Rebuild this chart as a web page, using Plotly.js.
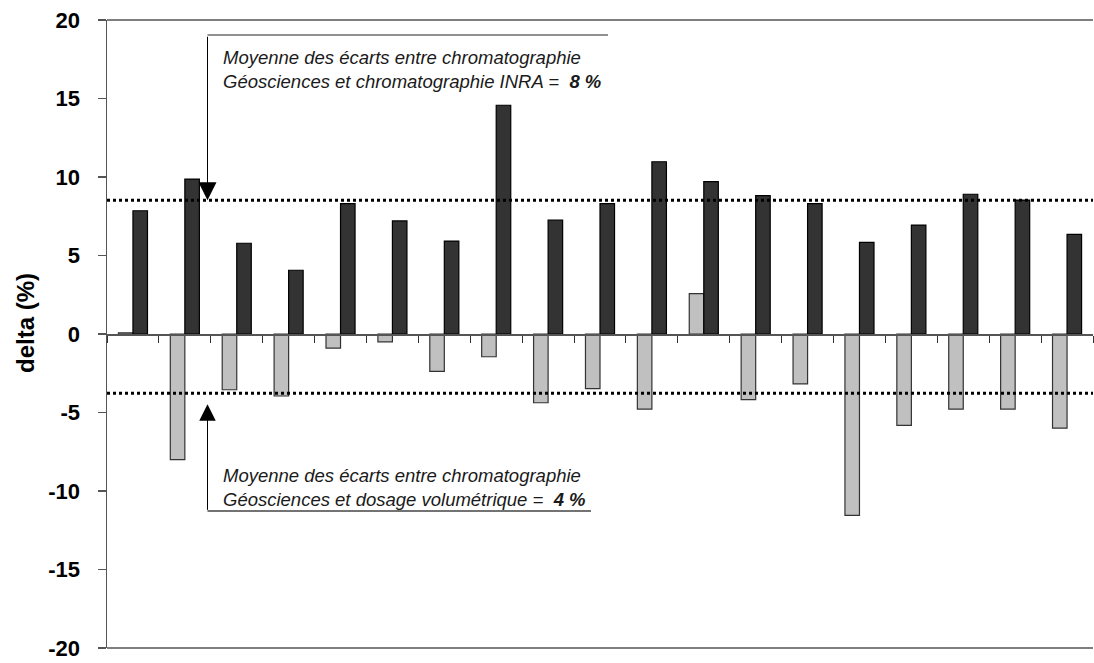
<!DOCTYPE html>
<html><head><meta charset="utf-8">
<script src="https://cdn.plot.ly/plotly-3.0.1.min.js"></script>
<style>html,body{margin:0;padding:0;background:#fff}#chart{width:1094px;height:663px}</style>
</head><body><div id="chart"></div>
<script>
// ---- data ----
const categories = ['1','2','3','4','5','6','7','8','9','10','11','12','13','14','15','16','17','18','19'];
const volumetric = [0.08, -8.0, -3.55, -3.95, -0.9, -0.5, -2.38, -1.45, -4.38, -3.48, -4.78, 2.57, -4.18, -3.18, -11.55, -5.82, -4.78, -4.78, -6.0];
const inra = [7.85, 9.87, 5.78, 4.06, 8.30, 7.20, 5.92, 14.57, 7.26, 8.30, 10.97, 9.70, 8.81, 8.30, 5.84, 6.94, 8.90, 8.53, 6.35];
const meanInra = 8.52;
const meanVol = -3.78;
const yTicks = [-20, -15, -10, -5, 0, 5, 10, 15, 20];
const textInra = 'Moyenne des écarts entre chromatographie<br>Géosciences et chromatographie INRA =  <b>8 %</b>';
const textVol = 'Moyenne des écarts entre chromatographie<br>Géosciences et dosage volumétrique =  <b>4 %</b>';
const yTitle = '<b>delta (%)</b>';

// ---- layout helpers ----
const W = 1094, H = 663;
const L = 107, R = 1093, T = 20, B = 648;
const px = x => (x - L) / (R - L);
const py = y => 1 - (y - T) / (B - T);
const FONT = 'Liberation Sans, Arial, sans-serif';

const traces = [
  { type: 'bar', x: categories, y: volumetric, name: 'volumetric',
    marker: { color: '#c0c0c0', line: { color: '#333', width: 1.2 } }, hoverinfo: 'y' },
  { type: 'bar', x: categories, y: inra, name: 'inra',
    marker: { color: '#333333', line: { color: '#000', width: 1.2 } }, hoverinfo: 'y' }
];

const annText = { family: FONT, size: 18.5, color: '#1a1a1a', style: 'italic' };

const layout = {
  width: W, height: H,
  margin: { l: L, r: W - R, t: T, b: H - B, pad: 0 },
  paper_bgcolor: '#fff', plot_bgcolor: '#fff',
  showlegend: false,
  barmode: 'group', bargap: 0.44, bargroupgap: 0,
  font: { family: FONT, color: '#000' },
  xaxis: {
    type: 'category', anchor: 'free', position: 0.5,
    showline: true, linecolor: '#555', linewidth: 1.5,
    ticks: 'outside', tickson: 'boundaries', ticklen: 7, tickcolor: '#333', tickwidth: 1,
    showticklabels: false, showgrid: false, zeroline: false
  },
  yaxis: {
    range: [-20, 20], tickmode: 'array', tickvals: yTicks, ticktext: yTicks.map(String),
    showline: true, linecolor: '#555', linewidth: 1.5,
    ticks: 'outside', ticklen: 8, tickcolor: '#555', tickwidth: 1.5,
    ticklabelstandoff: 13,
    tickfont: { family: FONT, size: 22, weight: 'bold', color: '#000' },
    showgrid: false, zeroline: false
  },
  shapes: [
    { type: 'line', xref: 'paper', yref: 'paper', x0: 0, x1: 1, y0: 1, y1: 1, line: { color: '#555', width: 1.5 } },
    { type: 'line', xref: 'paper', yref: 'paper', x0: 0, x1: 1, y0: 0, y1: 0, line: { color: '#555', width: 1.5 } },
    { type: 'line', xref: 'paper', yref: 'y', x0: 0, x1: 1, y0: meanInra, y1: meanInra, line: { color: '#000', width: 3, dash: 'dot' } },
    { type: 'line', xref: 'paper', yref: 'y', x0: 0, x1: 1, y0: meanVol, y1: meanVol, line: { color: '#000', width: 3, dash: 'dot' } },
    { type: 'line', xref: 'paper', yref: 'paper', x0: px(207.5), x1: px(608), y0: py(35), y1: py(35), line: { color: '#222', width: 1.2 } },
    { type: 'line', xref: 'paper', yref: 'paper', x0: px(207.5), x1: px(591), y0: py(511), y1: py(511), line: { color: '#444', width: 1.5 } }
  ],
  annotations: [
    { xref: 'paper', yref: 'y', x: px(207.5), y: meanInra, text: '', showarrow: true,
      arrowhead: 2, arrowsize: 3.6, arrowwidth: 1, arrowcolor: '#000', ax: 0, ay: -165, standoff: 0 },
    { xref: 'paper', yref: 'y', x: px(207.5), y: -4.48, text: '', showarrow: true,
      arrowhead: 2, arrowsize: 3.3, arrowwidth: 1, arrowcolor: '#000', ax: 0, ay: 107, standoff: 0 },
    { xref: 'paper', yref: 'paper', x: px(221), y: py(69), xanchor: 'left', yanchor: 'middle',
      align: 'left', showarrow: false, text: textInra, font: annText },
    { xref: 'paper', yref: 'paper', x: px(221), y: py(488), xanchor: 'left', yanchor: 'middle',
      align: 'left', showarrow: false, text: textVol, font: annText },
    { xref: 'paper', yref: 'paper', x: px(25), y: py(323), xanchor: 'center', yanchor: 'middle',
      textangle: -90, showarrow: false, text: yTitle, font: { family: FONT, size: 24, color: '#000' } }
  ]
};

Plotly.newPlot('chart', traces, layout, { staticPlot: true, displayModeBar: false });
</script>
</body></html>
